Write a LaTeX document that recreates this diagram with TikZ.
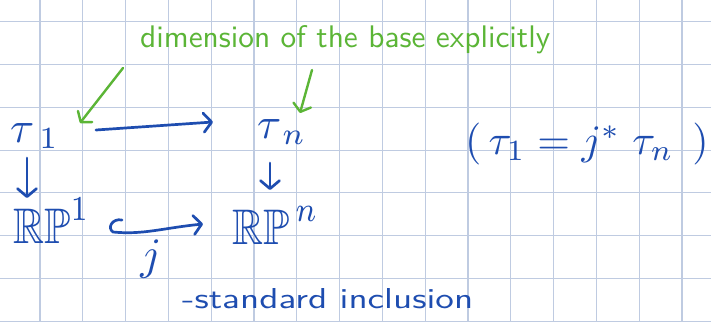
\documentclass[tikz,border=0pt]{standalone}
\usepackage{amssymb}
\usepackage{graphicx}
\usetikzlibrary{arrows.meta,calc}
\definecolor{ink}{HTML}{1E4DB0}
\definecolor{pen}{HTML}{5BB536}
\definecolor{gridc}{HTML}{BFCBE1}
\begin{document}
\begin{tikzpicture}[x=1pt,y=-1pt,
  gridline/.style={draw=gridc,line width=1.1pt},
  inkarrow/.style={draw=ink,line width=2.7pt,line cap=round,line join=round,
    -{Straight Barb[length=8pt,width=19pt,line width=2.7pt,round]}},
  penarrow/.style={draw=pen,line width=2.4pt,line cap=round,line join=round,
    -{Straight Barb[length=7pt,width=18pt,line width=2.4pt,round]}},
  inktext/.style={text=ink,inner sep=0pt,anchor=base west},
  pentext/.style={text=pen,inner sep=0pt,anchor=base west}]
\fill[white] (0,0) rectangle (711,322);
\useasboundingbox (0,0) rectangle (711,322);
\foreach \k in {0,...,15} \draw[gridline] ({40+42.8*\k},0) -- ({40+42.8*\k},322);
\foreach \k in {0,...,7} \draw[gridline] (0,{21.7+42.8*\k}) -- (711,{21.7+42.8*\k});

% labels
\node[pentext] (lbl) at (140,47) {\resizebox{410pt}{22pt}{\sffamily dimension of the base explicitly}};
\node[inktext] (t1) at (10,142) {\scalebox{4.4}{$\tau_{\;1}$}};
\node[inktext] (tn) at (257,138) {\scalebox{4.4}{$\tau_{\,n}$}};
\node[inktext] (rp1) at (13,243) {\scalebox{4.3}[5]{$\mathbb{RP}^1$}};
\node[inktext] (rpn) at (232,244) {\scalebox{4.3}[5]{$\mathbb{RP}^{\,n}$}};
\node[inktext,anchor=base] (jlab) at (151,269) {\scalebox{4.5}{$j$}};
\node[inktext] (incl) at (182,308) {\resizebox{291pt}{20pt}{\sffamily -standard inclusion}};
\node[inktext] (eq) at (465,154.5) {\scalebox{4.2}{$(\,\tau_{1} = j^{*}\;\tau_{n}\;\,)$}};

% green arrows
\draw[penarrow] ($(lbl.base west)+(-17,21)$) -- ($(t1.base west)+(70,-19)$);
\draw[penarrow] ($(lbl.base west)+(172,23)$) -- ($(tn.base west)+(43,-25)$);

% blue arrows
\draw[inkarrow] ($(t1.base west)+(86,-12)$) -- ($(tn.base west)+(-44,-16)$);
\draw[inkarrow] ($(t1.base west)+(17,16)$) -- ($(rp1.base west)+(14,-45)$);
\draw[inkarrow] ($(tn.base west)+(13,25)$) -- ($(rpn.base west)+(38,-54)$);
\coordinate (hb) at ($(rp1.base west)+(100,-11)$);
\draw[inkarrow] ($(rp1.base west)+(109,-23)$) .. controls +(-10,-2) and +(-6,-4) .. (hb)
  .. controls +(30,3) and +(-40,4) .. ($(rpn.base west)+(-29,-20)$);
\end{tikzpicture}
\end{document}
